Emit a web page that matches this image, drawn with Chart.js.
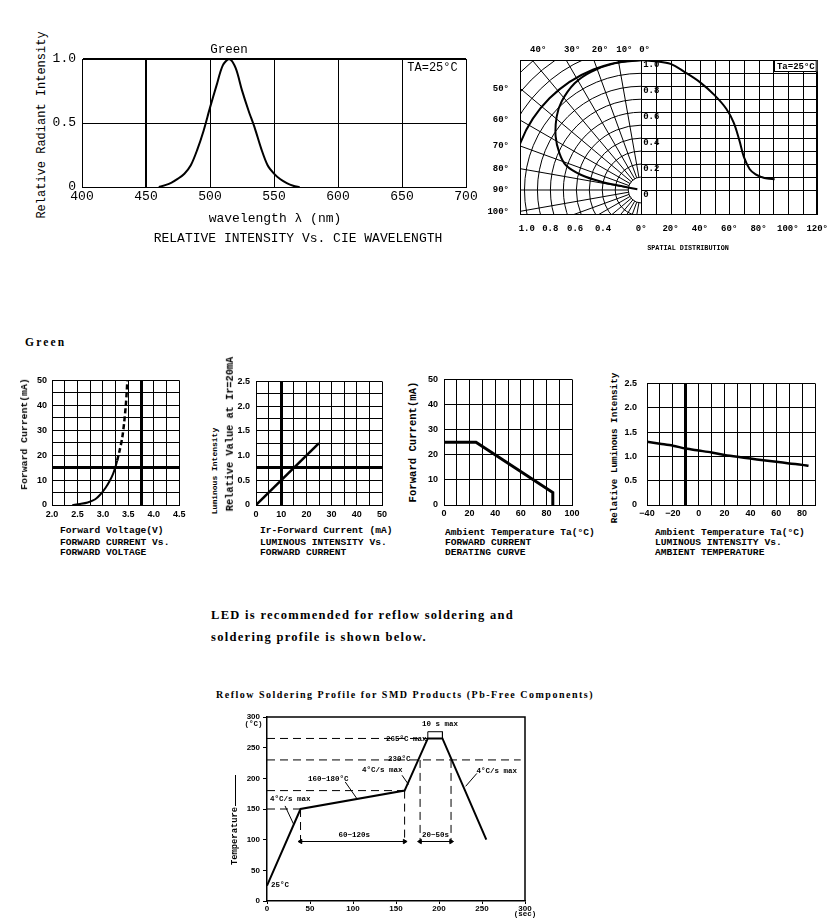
<!DOCTYPE html>
<html><head><meta charset="utf-8"><title>LED characteristics</title>
<script src="https://cdn.jsdelivr.net/npm/chart.js@4.4.1/dist/chart.umd.min.js"></script>
<style>
html,body{margin:0;padding:0;background:#fff;}
#page{position:relative;width:836px;height:921px;overflow:hidden;background:#fff;color:#000;}
canvas{position:absolute;}
.t{position:absolute;white-space:nowrap;line-height:1;color:#000;}
.c{transform:translate(-50%,-50%);}
.l{transform:translate(0,-50%);}
.r{transform:translate(-50%,-50%) rotate(-90deg);}
.mono{font-family:'Liberation Mono','DejaVu Sans Mono',monospace;}
.serif{font-family:'Liberation Serif','DejaVu Serif',serif;}
.b{font-weight:bold;}
.cap{font-family:'Liberation Mono','DejaVu Sans Mono',monospace;font-weight:bold;font-size:9.6px;}
.ann{font-family:'Liberation Mono','DejaVu Sans Mono',monospace;font-weight:bold;font-size:7.5px;}
</style></head>
<body><div id="page">
<!-- spectrum -->
<div class="t c mono" style="left:229px;top:50px;font-size:12.5px">Green</div>
<div class="t r mono" style="left:42px;top:124.5px;font-size:12px">Relative Radiant Intensity</div>
<div class="t c mono" style="left:275px;top:218px;font-size:13px">wavelength λ (nm)</div>
<div class="t c mono" style="left:298px;top:237.5px;font-size:13px">RELATIVE INTENSITY Vs. CIE WAVELENGTH</div>
<div class="t c mono" style="left:432.5px;top:67.5px;font-size:12px">TA=25°C</div>
<!-- spatial -->
<div class="t mono b" style="left:688px;top:248px;font-size:8px;transform:translate(-50%,-50%) scaleX(0.85)">SPATIAL DISTRIBUTION</div>
<!-- row 2 -->
<div class="t l serif b" style="left:25px;top:343px;font-size:11.5px;letter-spacing:2.2px">Green</div>
<div class="t r mono b" style="left:25px;top:434px;font-size:9.8px">Forward Current(mA)</div>
<div class="t l cap" style="left:60px;top:530.7px">Forward Voltage(V)</div>
<div class="t l cap" style="left:60px;top:543.3px">FORWARD CURRENT Vs.</div>
<div class="t l cap" style="left:60px;top:552.7px">FORWARD VOLTAGE</div>
<div class="t r mono b" style="left:215px;top:470.5px;font-size:8px">Luminous Intensity</div>
<div class="t r mono b" style="left:230px;top:433.5px;font-size:10.3px">Relative Value at Ir=20mA</div>
<div class="t l cap" style="left:260px;top:530.7px">Ir-Forward Current (mA)</div>
<div class="t l cap" style="left:260px;top:543.3px">LUMINOUS INTENSITY Vs.</div>
<div class="t l cap" style="left:260px;top:552.7px">FORWARD CURRENT</div>
<div class="t r mono b" style="left:413px;top:441.5px;font-size:10.6px">Forward Current(mA)</div>
<div class="t l cap" style="left:445px;top:532.7px">Ambient Temperature Ta(°C)</div>
<div class="t l cap" style="left:445px;top:543.3px">FORWARD CURRENT</div>
<div class="t l cap" style="left:445px;top:553.3px">DERATING CURVE</div>
<div class="t r mono b" style="left:615px;top:448px;font-size:9.3px">Relative Luminous Intensity</div>
<div class="t l cap" style="left:655px;top:532.7px">Ambient Temperature Ta(°C)</div>
<div class="t l cap" style="left:655px;top:543.3px">LUMINOUS INTENSITY Vs.</div>
<div class="t l cap" style="left:655px;top:553.3px">AMBIENT TEMPERATURE</div>
<!-- reflow -->
<div class="t l serif b" style="left:211px;top:615px;font-size:12.5px;letter-spacing:1.3px">LED is recommended for reflow soldering and</div>
<div class="t l serif b" style="left:211px;top:637px;font-size:12.5px;letter-spacing:1.3px">soldering profile is shown below.</div>
<div class="t c serif b" style="left:405px;top:695px;font-size:10px;letter-spacing:1.5px">Reflow Soldering Profile for SMD Products (Pb-Free Components)</div>
<div class="t l ann" style="left:271px;top:886px">25°C</div>
<div class="t l ann" style="left:270px;top:800px">4°C/s max</div>
<div class="t l ann" style="left:308px;top:780px">160~180°C</div>
<div class="t l ann" style="left:362px;top:771px">4°C/s max</div>
<div class="t l ann" style="left:388px;top:760px">230°C</div>
<div class="t l ann" style="left:386px;top:739.5px">265°C max</div>
<div class="t l ann" style="left:422px;top:725px">10 s max</div>
<div class="t l ann" style="left:476.5px;top:772px">4°C/s max</div>
<div class="t l ann" style="left:338.5px;top:836px">60~120s</div>
<div class="t l ann" style="left:422px;top:836px">20~50s</div>
<div class="t c ann" style="left:253.5px;top:725px">(°C)</div>
<div class="t c ann" style="left:525px;top:914.5px">(sec)</div>
<div class="t r mono b" style="left:235px;top:836px;font-size:8.8px">Temperature</div>
<div style="position:absolute;left:235px;top:775px;height:31px;border-left:1px solid #000"></div>
</div>
<script>
// ---------------- DATA ----------------
// Relative intensity vs wavelength
const SPECTRUM_NM  = [460,465,470,475,480,485,490,495,500,505,510,515,520,525,530,535,540,545,550,555,560,565,570];
const SPECTRUM_REL = [0,0.015,0.035,0.065,0.104,0.17,0.29,0.44,0.62,0.79,0.95,1.0,0.93,0.755,0.6,0.46,0.3,0.17,0.105,0.06,0.03,0.01,0];
const SPECTRUM_X_TICKS  = [400,450,500,550,600,650,700];
const SPECTRUM_X_LABELS = ['400','450','500','550','600','650','700'];
const SPECTRUM_Y_TICKS  = [0,0.5,1];
const SPECTRUM_Y_LABELS = ['0','0.5','1.0'];
const SPECTRUM_THICK_NM = [450];

// Spatial distribution (cartesian half)
const SPATIAL_DEG = [0,10,20,30,40,50,58,63,67,70,74,78,82,86,91];
const SPATIAL_REL = [1.0,0.99,0.97,0.905,0.83,0.73,0.625,0.52,0.38,0.255,0.16,0.12,0.1,0.088,0.082];
// Spatial distribution (polar half)
const POLAR_DEG = [0,12,23,32,42,49,58,66,72,76,78.3,78.7,80];
const POLAR_REL = [1.0,0.996,0.988,0.968,0.917,0.863,0.778,0.689,0.608,0.476,0.314,0.157,0.03];
const SPATIAL_BOTTOM_TICKS  = [-78,-62,-45,-26,0,20,40,60,80,100,120];
const SPATIAL_BOTTOM_LABELS = ['1.0','0.8','0.6','0.4','0°','20°','40°','60°','80°','100°','120°'];
const SPATIAL_RIGHT_TICKS  = [1,0.8,0.6,0.4,0.2,0];
const SPATIAL_RIGHT_LABELS = ['1.0','0.8','0.6','0.4','0.2','0'];
const SPATIAL_GRID_DEG = [0,10,20,30,40,50,60,70,80,90,100,110,120];
const SPATIAL_GRID_REL = [0,0.1,0.2,0.3,0.4,0.5,0.6,0.7,0.8,0.9,1.0];
const POLAR_RINGS  = [0.1,0.2,0.3,0.4,0.5,0.6,0.7,0.8,0.9,1.0,1.1,1.2,1.3,1.4];
const POLAR_SPOKES = [10,20,30,40,50,60,70,80,90,100,110,120,130,140,150,160,170];
const POLAR_TOP_ANGLES  = [40,30,20,10,0];
const POLAR_TOP_LABELS  = ['40°','30°','20°','10°','0°'];
const POLAR_SIDE_ANGLES = [50,60,70,80,90,100];
const POLAR_SIDE_LABELS = ['50°','60°','70°','80°','90°','100°'];

// Forward current vs forward voltage
const FV_VOLT_SOLID = [2.4,2.55,2.7,2.85,2.95,3.05,3.13,3.2,3.25,3.28];
const FV_CURR_SOLID = [0,0.4,1.0,2.3,4.2,6.8,9.5,12.5,15.5,17.8];
const FV_VOLT_DASH  = [3.28,3.33,3.38,3.42,3.45,3.47,3.48];
const FV_CURR_DASH  = [17.8,22,27,33.5,40,46,50];
const FV_X_TICKS  = [2,2.5,3,3.5,4,4.5];
const FV_X_LABELS = ['2.0','2.5','3.0','3.5','4.0','4.5'];
const FV_Y_TICKS  = [0,10,20,30,40,50];
const FV_Y_LABELS = ['0','10','20','30','40','50'];

// Luminous intensity vs forward current
const LI_IF_MA = [0,25];
const LI_REL   = [0,1.25];
const LI_X_TICKS  = [0,10,20,30,40,50];
const LI_X_LABELS = ['0','10','20','30','40','50'];
const LI_Y_TICKS  = [0,0.5,1,1.5,2,2.5];
const LI_Y_LABELS = ['0','0.5','1.0','1.5','2.0','2.5'];

// Forward current derating
const DR_TEMP_C = [0,25,85,85];
const DR_IF_MA  = [25,25,5,0];
const DR_X_TICKS  = [0,20,40,60,80,100];
const DR_X_LABELS = ['0','20','40','60','80','100'];
const DR_Y_TICKS  = [0,10,20,30,40,50];
const DR_Y_LABELS = ['0','10','20','30','40','50'];

// Luminous intensity vs ambient temperature
const LT_TEMP_C = [-40,-30,-20,-10,0,10,20,30,40,50,60,70,80,85];
const LT_REL    = [1.3,1.26,1.22,1.16,1.12,1.08,1.03,0.99,0.955,0.92,0.89,0.855,0.825,0.805];
const LT_X_TICKS  = [-40,-20,0,20,40,60,80];
const LT_X_LABELS = ['\u221240','\u221220','0','20','40','60','80'];
const LT_Y_TICKS  = [0,0.5,1,1.5,2,2.5];
const LT_Y_LABELS = ['0','0.5','1.0','1.5','2.0','2.5'];

// Reflow soldering profile
const REFLOW_TIME_S = [0,39,160,187,204,255];
const REFLOW_TEMP_C = [25,150,180,265,265,100];
const REFLOW_LEVEL_C     = [150,180,230,265];
const REFLOW_LEVEL_END_S = [39,160,295,187];
const REFLOW_MARK_S      = [39,160,178,214];
const REFLOW_MARK_TOP_C  = [150,180,230,230];
const REFLOW_SPAN_C      = 97;
const REFLOW_SPAN_FROM_S = [39,178];
const REFLOW_SPAN_TO_S   = [160,214];
const REFLOW_PEAK_S      = [187,204];
const REFLOW_PEAK_C      = [265,276];
const LEADER_FROM_S = [21,91,157,244];
const LEADER_FROM_C = [155,194,205,208];
const LEADER_TO_S   = [31,104.5,164.5,231];
const LEADER_TO_C   = [125,167,190,187];

// ---------------- HELPERS ----------------
const MONO = "'Liberation Mono','DejaVu Sans Mono',monospace";
const SANS = "'Liberation Sans','DejaVu Sans',sans-serif";
Chart.defaults.font.family = MONO;
Chart.defaults.color = '#000';
Chart.defaults.animation = false;
Chart.defaults.events = [];
Chart.defaults.plugins.legend.display = false;
Chart.defaults.plugins.tooltip.enabled = false;

const near = (a, b) => Math.abs(a - b) < 1e-6;
const pts = (xs, ys) => xs.map((x, i) => ({x, y: ys[i]}));
const labelFor = (vals, labels) => v => { const i = vals.findIndex(t => near(t, v)); return i < 0 ? '' : labels[i]; };
const widthAt = (vals, thick) => c => (c.tick && vals.some(v => near(v, c.tick.value))) ? thick : 1;
const gridOpt = (vals, thick) => ({color: '#000', lineWidth: widthAt(vals, thick), drawTicks: false});
const BORDER = {color: '#000', width: 1};
const line = (data, extra) => Object.assign({data, showLine: true, pointRadius: 0, borderColor: '#000',
  backgroundColor: '#000', borderWidth: 2, tension: 0, fill: false}, extra || {});
const tickOpt = (vals, labels, font, padding, step) => ({stepSize: step, callback: labelFor(vals, labels),
  font, padding, maxRotation: 0, autoSkip: false});

function makeChart(cv, plot, datasets, scales, plugins) {
  const [x0, y0, x1, y1] = cv, [L, T, R, B] = plot;
  const el = document.createElement('canvas');
  el.width = x1 - x0; el.height = y1 - y0;
  el.style.left = x0 + 'px'; el.style.top = y0 + 'px';
  el.style.width = (x1 - x0) + 'px'; el.style.height = (y1 - y0) + 'px';
  document.getElementById('page').insertBefore(el, document.getElementById('page').firstChild);
  const hideY = scales.y.display === false;
  scales.x.afterFit = s => { s.height = y1 - B; };
  if (!hideY) scales.y.afterFit = s => { s.width = L - x0; };
  return new Chart(el, {
    type: 'scatter',
    data: {datasets},
    options: {responsive: false, maintainAspectRatio: false, devicePixelRatio: 1,
      layout: {padding: {left: hideY ? L - x0 : 0, top: T - y0, right: x1 - R, bottom: 0}},
      scales},
    plugins: plugins || []
  });
}

// ---------------- CHART 1: spectrum ----------------
const F13 = {family: MONO, size: 13};
makeChart([50, 45, 482, 212], [82, 59, 466, 187],
  [line(pts(SPECTRUM_NM, SPECTRUM_REL), {tension: 0.3, borderWidth: 2})],
  {
    x: {type: 'linear', min: 400, max: 700, ticks: tickOpt(SPECTRUM_X_TICKS, SPECTRUM_X_LABELS, F13, 2, 50),
        grid: gridOpt(SPECTRUM_THICK_NM, 2), border: BORDER},
    y: {type: 'linear', min: 0, max: 1, ticks: tickOpt(SPECTRUM_Y_TICKS, SPECTRUM_Y_LABELS, F13, 6, 0.5),
        grid: gridOpt([1], 2), border: BORDER}
  });

// ---------------- CHART 2: spatial distribution ----------------
const SP = {L: 520, R: 818, T: 60, B: 215, CX: 641.5, CY: 190};
const spatialGrid = {
  id: 'spatialGrid',
  beforeDatasetsDraw(chart) {
    const {ctx, chartArea: a, scales: {x, xr, y}} = chart;
    const cx = xr.getPixelForValue(0), cy = y.getPixelForValue(0);
    const unit = xr.getPixelForValue(1) - cx;
    const al = v => Math.round(v) + 0.5;
    ctx.save();
    ctx.strokeStyle = '#000'; ctx.fillStyle = '#000'; ctx.lineWidth = 1;
    ctx.beginPath();
    SPATIAL_GRID_DEG.forEach(d => { const px = al(x.getPixelForValue(d)); ctx.moveTo(px, a.top); ctx.lineTo(px, a.bottom); });
    SPATIAL_GRID_REL.forEach(v => { const py = al(y.getPixelForValue(v)); ctx.moveTo(al(cx), py); ctx.lineTo(a.right, py); });
    ctx.stroke();
    ctx.save();
    ctx.beginPath(); ctx.rect(a.left, a.top, cx - a.left, a.bottom - a.top); ctx.clip();
    POLAR_RINGS.forEach(r => { ctx.beginPath(); ctx.lineWidth = near(r, 1) ? 2 : 1; ctx.arc(cx, cy, r * unit, 0, Math.PI * 2); ctx.stroke(); });
    ctx.lineWidth = 1; ctx.beginPath();
    const r0 = POLAR_RINGS[0] * unit;
    POLAR_SPOKES.forEach(d => { const t = d * Math.PI / 180, s = Math.sin(t), c = Math.cos(t);
      ctx.moveTo(cx - s * r0, cy - c * r0); ctx.lineTo(cx - s * 3 * unit, cy - c * 3 * unit); });
    ctx.stroke();
    ctx.restore();
    ctx.lineWidth = 1;
    ctx.strokeRect(al(a.left), al(a.top), Math.round(a.right - a.left) - 1, Math.round(a.bottom - a.top) - 1);
    // labels
    ctx.font = 'bold 9px ' + MONO;
    ctx.textBaseline = 'middle';
    ctx.textAlign = 'left';
    const h = cy - a.top, w = cx - a.left;
    POLAR_TOP_ANGLES.forEach((d, i) => { const t = d * Math.PI / 180; ctx.fillText(POLAR_TOP_LABELS[i], cx - Math.tan(t) * h - 2, a.top - 10); });
    ctx.textAlign = 'right';
    POLAR_SIDE_ANGLES.forEach((d, i) => { const t = d * Math.PI / 180; ctx.fillText(POLAR_SIDE_LABELS[i], a.left - 11, cy - w * Math.cos(t) / Math.sin(t)); });
    ctx.textAlign = 'left';
    SPATIAL_RIGHT_TICKS.forEach((v, i) => ctx.fillText(SPATIAL_RIGHT_LABELS[i], cx + 2, y.getPixelForValue(v) + 5));
    // temperature note box
    const note = 'Ta=25°C', tw = ctx.measureText(note).width;
    const bx = Math.round(a.right - tw - 5) + 0.5, by = al(a.top), bh = 11;
    ctx.fillStyle = '#fff'; ctx.fillRect(bx, by, a.right - bx, bh);
    ctx.strokeRect(bx, by, a.right - bx - 1, bh);
    ctx.fillStyle = '#000'; ctx.textAlign = 'center';
    ctx.fillText(note, (bx + a.right) / 2, by + bh / 2 + 0.5);
    ctx.restore();
  }
};
const spUnit = SP.CY - SP.T;
makeChart([488, 38, 836, 262], [SP.L, SP.T, SP.R, SP.B],
  [
    line(pts(SPATIAL_DEG, SPATIAL_REL), {tension: 0.35, xAxisID: 'x'}),
    line(POLAR_DEG.map((d, i) => ({x: -POLAR_REL[i] * Math.sin(d * Math.PI / 180), y: POLAR_REL[i] * Math.cos(d * Math.PI / 180)})),
      {tension: 0.35, xAxisID: 'xr'})
  ],
  {
    x: {type: 'linear', position: 'bottom', min: -120 * (SP.CX - SP.L) / (SP.R - SP.CX), max: 120,
        afterBuildTicks: s => { s.ticks = SPATIAL_BOTTOM_TICKS.map(v => ({value: v})); },
        ticks: {callback: (v, i) => SPATIAL_BOTTOM_LABELS[i], font: {family: MONO, size: 9, weight: 'bold'},
                padding: 8, maxRotation: 0, autoSkip: false},
        grid: {display: false, drawTicks: false}, border: {display: false}},
    xr: {type: 'linear', axis: 'x', display: false, min: -(SP.CX - SP.L) / spUnit, max: (SP.R - SP.CX) / spUnit},
    y: {type: 'linear', display: false, min: -(SP.B - SP.CY) / spUnit, max: 1}
  }, [spatialGrid]);

// ---------------- ROW 2 ----------------
const F9 = {family: SANS, size: 9, weight: 'bold'};
// Forward current vs voltage
makeChart([30, 370, 190, 525], [52, 379, 181, 505],
  [line(pts(FV_VOLT_SOLID, FV_CURR_SOLID), {tension: 0.3, borderWidth: 2}),
   line(pts(FV_VOLT_DASH, FV_CURR_DASH), {tension: 0.3, borderWidth: 2.5, borderDash: [5, 3]})],
  {
    x: {type: 'linear', min: 2, max: 4.5, ticks: tickOpt(FV_X_TICKS, FV_X_LABELS, F9, 4.5, 0.25),
        grid: gridOpt([3.75], 3), border: BORDER},
    y: {type: 'linear', min: 0, max: 50, ticks: tickOpt(FV_Y_TICKS, FV_Y_LABELS, F9, 5, 5),
        grid: gridOpt([15], 3), border: BORDER}
  });
// Luminous intensity vs forward current
makeChart([232, 370, 392, 525], [256, 379, 382, 505],
  [line(pts(LI_IF_MA, LI_REL), {borderWidth: 2.5})],
  {
    x: {type: 'linear', min: 0, max: 50, ticks: tickOpt(LI_X_TICKS, LI_X_LABELS, F9, 4.5, 5),
        grid: gridOpt([10], 3), border: BORDER},
    y: {type: 'linear', min: 0, max: 2.5, ticks: tickOpt(LI_Y_TICKS, LI_Y_LABELS, F9, 6, 0.25),
        grid: gridOpt([0.75], 3), border: BORDER}
  });
// Derating
makeChart([420, 368, 585, 525], [444, 377, 572, 505],
  [line(pts(DR_TEMP_C, DR_IF_MA), {borderWidth: 3})],
  {
    x: {type: 'linear', min: 0, max: 100, ticks: tickOpt(DR_X_TICKS, DR_X_LABELS, F9, 3, 10),
        grid: gridOpt([], 1), border: BORDER},
    y: {type: 'linear', min: 0, max: 50, ticks: tickOpt(DR_Y_TICKS, DR_Y_LABELS, F9, 6, 10),
        grid: gridOpt([], 1), border: BORDER}
  });
// Luminous intensity vs ambient temperature
makeChart([622, 368, 830, 525], [647, 377, 815, 505],
  [line(pts(LT_TEMP_C, LT_REL), {tension: 0.3, borderWidth: 2.5})],
  {
    x: {type: 'linear', min: -40, max: 90, ticks: tickOpt(LT_X_TICKS, LT_X_LABELS, F9, 3, 10),
        grid: gridOpt([-10], 3), border: BORDER},
    y: {type: 'linear', min: 0, max: 2.5, ticks: tickOpt(LT_Y_TICKS, LT_Y_LABELS, F9, 10, 0.5),
        grid: gridOpt([], 1), border: BORDER}
  });

// ---------------- REFLOW ----------------
const reflowFrame = {
  id: 'reflowFrame',
  afterDatasetsDraw(chart) {
    const {ctx, chartArea: a} = chart;
    ctx.save(); ctx.strokeStyle = '#000'; ctx.lineWidth = 1.5;
    ctx.beginPath(); ctx.moveTo(a.left, a.top); ctx.lineTo(a.right, a.top); ctx.lineTo(a.right, a.bottom); ctx.stroke();
    ctx.restore();
  }
};
const F8 = {family: SANS, size: 8, weight: 'bold'};
const DASH = {borderWidth: 1, borderDash: [8, 5]};
const reflowSets = [line(pts(REFLOW_TIME_S, REFLOW_TEMP_C), {borderWidth: 2})];
REFLOW_LEVEL_C.forEach((c, i) => reflowSets.push(line([{x: 0, y: c}, {x: REFLOW_LEVEL_END_S[i], y: c}], DASH)));
REFLOW_MARK_S.forEach((s, i) => reflowSets.push(line([{x: s, y: REFLOW_MARK_TOP_C[i]}, {x: s, y: REFLOW_SPAN_C - 3}], DASH)));
REFLOW_SPAN_FROM_S.forEach((s, i) => reflowSets.push(line([{x: s, y: REFLOW_SPAN_C}, {x: REFLOW_SPAN_TO_S[i], y: REFLOW_SPAN_C}],
  {borderWidth: 1, pointRadius: 2.5, pointStyle: 'triangle', pointRotation: [-90, 90], pointBorderWidth: 1})));
reflowSets.push(line([{x: REFLOW_PEAK_S[0], y: REFLOW_PEAK_C[0]}, {x: REFLOW_PEAK_S[0], y: REFLOW_PEAK_C[1]},
  {x: REFLOW_PEAK_S[1], y: REFLOW_PEAK_C[1]}, {x: REFLOW_PEAK_S[1], y: REFLOW_PEAK_C[0]}], {borderWidth: 1}));
LEADER_FROM_S.forEach((s, i) => reflowSets.push(line([{x: s, y: LEADER_FROM_C[i]}, {x: LEADER_TO_S[i], y: LEADER_TO_C[i]}], {borderWidth: 1})));
makeChart([240, 708, 545, 921], [267, 717, 525, 901], reflowSets,
  {
    x: {type: 'linear', min: 0, max: 300, ticks: {stepSize: 50, font: F8, padding: 0, maxRotation: 0, autoSkip: false},
        grid: {drawOnChartArea: false, drawTicks: true, tickLength: 3, color: '#000'}, border: {color: '#000', width: 1.5}},
    y: {type: 'linear', min: 0, max: 300, ticks: {stepSize: 50, font: F8, padding: 3, autoSkip: false},
        grid: {drawOnChartArea: false, drawTicks: true, tickLength: 4, color: '#000'}, border: {color: '#000', width: 1.5}}
  }, [reflowFrame]);
</script>
</body></html>
